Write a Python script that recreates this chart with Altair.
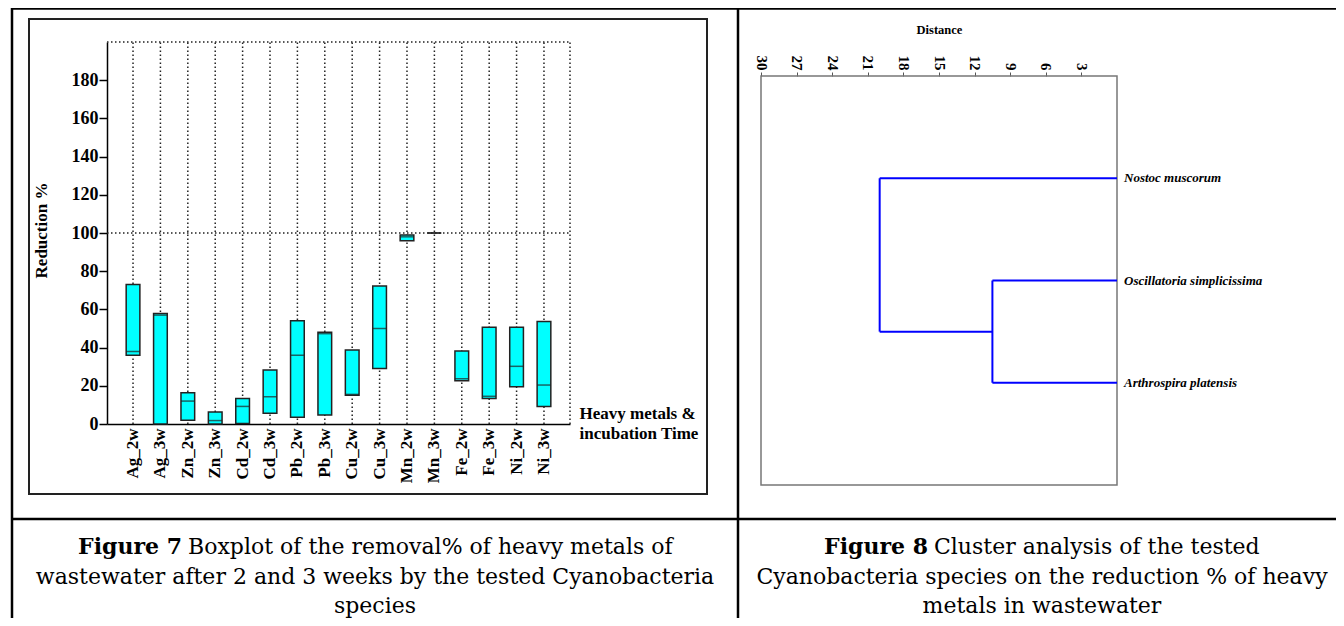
import altair as alt
import pandas as pd

# ---------------- Figure 7 data (boxplot) ----------------
categories = ["Ag_2w", "Ag_3w", "Zn_2w", "Zn_3w", "Cd_2w", "Cd_3w", "Pb_2w", "Pb_3w",
              "Cu_2w", "Cu_3w", "Mn_2w", "Mn_3w", "Fe_2w", "Fe_3w", "Ni_2w", "Ni_3w"]
q1 = [36, 0, 2, 0, 0.3, 5.6, 3.5, 4.7, 15, 29, 96, 100, 22.7, 13.3, 19.5, 9.2]
median = [38, 57, 12, 1.8, 9.2, 14.3, 36, 47.3, 15.5, 50, 98, 100, 23.7, 14.5, 30.2, 20.4]
q3 = [73, 57.8, 16.4, 6.3, 13.4, 28.3, 54, 48, 38.7, 72.2, 99, 100, 38.2, 50.6, 50.6, 53.6]
y_domain = [0, 200]
y_ticks = [0, 20, 40, 60, 80, 100, 120, 140, 160, 180]
ref_levels = [100, 200]

# ---------------- Figure 8 data (dendrogram) ----------------
species = ["Nostoc muscorum", "Oscillatoria simplicissima", "Arthrospira platensis"]
leaf_pos = [1, 2, 3]
merge_dist = [10.5, 20.0]   # Oscillatoria+Arthrospira, then Nostoc + cluster
dist_ticks = [3, 6, 9, 12, 15, 18, 21, 24, 27, 30]
dist_domain = [0, 30]

# ---------------- captions ----------------
cap7_bold = "Figure 7"
cap7_lines = ["Boxplot of the removal% of heavy metals of",
              "wastewater after 2 and 3 weeks by the tested Cyanobacteria",
              "species"]
cap8_bold = "Figure 8"
cap8_lines = ["Cluster analysis of the tested",
              "Cyanobacteria species on the reduction % of heavy",
              "metals in wastewater"]

SERIF = "Liberation Serif"
CAP = "DejaVu Serif"
W, H = 1328, 610

# ---------- boxplot layer ----------
box_df = pd.DataFrame({"cat": categories, "q1": q1, "med": median, "q3": q3,
                       "lo": [y_domain[0]] * len(categories),
                       "hi": [y_domain[1]] * len(categories)})

xb = alt.Scale(domain=categories, range=[99, 562], paddingInner=0.5, paddingOuter=0.7)
yb = alt.Scale(domain=y_domain, range=[416, 34], nice=False, zero=False)

x_axis = alt.Axis(orient="bottom", offset=-194, ticks=False, labelAngle=-90,
                  labelAlign="right", labelBaseline="middle", labelPadding=4,
                  labelFont=SERIF, labelFontWeight="bold", labelFontSize=17,
                  labelColor="black", domainColor="black", domainWidth=1.5,
                  title=["Heavy metals &", "incubation Time"], titleFont=SERIF,
                  titleFontWeight="bold", titleFontSize=17, titleColor="black",
                  titleAlign="left", titleBaseline="top", titleX=571, titleY=-19,
                  titleLineHeight=20, titleAngle=0)
y_axis = alt.Axis(orient="left", offset=-99, values=y_ticks, grid=False,
                  tickSize=8, tickColor="black", tickWidth=1.5,
                  labelFont=SERIF, labelFontWeight="bold", labelFontSize=18,
                  labelColor="black", labelPadding=1,
                  domainColor="black", domainWidth=1.5,
                  title="Reduction %", titleFont=SERIF, titleFontWeight="bold",
                  titleFontSize=17, titleColor="black", titleX=-57, titleY=222,
                  titleAngle=-90, titleAlign="center", titleBaseline="bottom")

base_box = alt.Chart(box_df)
vlines = base_box.mark_rule(strokeDash=[1.5, 2.5], strokeWidth=1.5, color="#222").encode(
    x=alt.X("cat:N", scale=xb, axis=x_axis, sort=categories),
    y=alt.Y("lo:Q", scale=yb, axis=y_axis),
    y2="hi:Q")
boxes = base_box.mark_bar(color="#00FFFF", stroke="#222", strokeWidth=1.5).encode(
    x=alt.X("cat:N", scale=xb, axis=x_axis, sort=categories),
    y=alt.Y("q1:Q", scale=yb, axis=y_axis),
    y2="q3:Q")
meds = base_box.mark_tick(color="#222", thickness=1.5, size=13.7).encode(
    x=alt.X("cat:N", scale=xb, axis=x_axis, sort=categories),
    y=alt.Y("med:Q", scale=yb, axis=y_axis))
ref_df = pd.DataFrame({"lvl": ref_levels})
hlines = alt.Chart(ref_df).mark_rule(strokeDash=[1.5, 2.5], strokeWidth=1.5, color="#222").encode(
    y=alt.Y("lvl:Q", scale=yb, axis=y_axis), x=alt.value(99), x2=alt.value(562))
right_df = pd.DataFrame({"lo": [y_domain[0]], "hi": [y_domain[1]]})
rline = alt.Chart(right_df).mark_rule(strokeDash=[1.5, 2.5], strokeWidth=1.5, color="#222").encode(
    y=alt.Y("lo:Q", scale=yb, axis=y_axis), y2="hi:Q", x=alt.value(562))

box_layer = alt.layer(vlines, boxes, meds, hlines, rline)

# ---------- dendrogram layer ----------
xd = alt.Scale(domain=dist_domain, range=[1109, 753], nice=False, zero=False)
yd = alt.Scale(domain=[0, len(species) + 1], range=[68, 477], nice=False, zero=False)

d_axis = alt.Axis(orient="top", offset=-68, values=dist_ticks, grid=False, domain=False,
                  tickSize=4, tickColor="#555", labelAngle=90, labelAlign="right",
                  labelBaseline="middle", labelPadding=2, labelFont=SERIF,
                  labelFontSize=15, labelFontWeight="bold", labelColor="black",
                  title="Distance", titleFont=SERIF, titleFontSize=12.5,
                  titleFontWeight="bold", titleColor="black", titlePadding=19)
d_yaxis = alt.Axis(orient="right", domain=False, ticks=False, labels=False, grid=False,
                   title=None)

frame_df = pd.DataFrame({"x0": [dist_domain[0]], "x1": [dist_domain[1]],
                         "y0": [0], "y1": [len(species) + 1]})
frame = alt.Chart(frame_df).mark_rect(fillOpacity=0, stroke="#777", strokeWidth=1.5).encode(
    x=alt.X("x0:Q", scale=xd, axis=d_axis), x2="x1:Q",
    y=alt.Y("y0:Q", scale=yd, axis=d_yaxis), y2="y1:Q")

m1, m2 = merge_dist
p_n, p_o, p_a = leaf_pos
mid = (p_o + p_a) / 2
seg_df = pd.DataFrame({
    "xa": [0, 0, 0, m1, m1, m2],
    "xb": [m2, m1, m1, m1, m2, m2],
    "ya": [p_n, p_o, p_a, p_o, mid, p_n],
    "yb": [p_n, p_o, p_a, p_a, mid, mid],
})
segs = alt.Chart(seg_df).mark_rule(color="#0000FF", strokeWidth=2).encode(
    x=alt.X("xa:Q", scale=xd, axis=d_axis), x2="xb:Q",
    y=alt.Y("ya:Q", scale=yd, axis=d_yaxis), y2="yb:Q")

lab_df = pd.DataFrame({"sp": species, "pos": leaf_pos, "d": [0] * len(species)})
labels = alt.Chart(lab_df).mark_text(align="left", baseline="middle", dx=7,
                                     font=SERIF, fontSize=13, fontStyle="italic",
                                     fontWeight="bold", color="black").encode(
    x=alt.X("d:Q", scale=xd, axis=d_axis),
    y=alt.Y("pos:Q", scale=yd, axis=d_yaxis),
    text="sp:N")

dendro_layer = alt.layer(frame, segs, labels)

# ---------- table / frames / captions ----------
one = pd.DataFrame({"k": [0]})

def rule(x, x2, y, y2, color="black", w=2.5):
    return alt.Chart(one).mark_rule(color=color, strokeWidth=w).encode(
        x=alt.value(x), x2=alt.value(x2), y=alt.value(y), y2=alt.value(y2))

table = [
    rule(3, W, 0.5, 0.5),
    rule(4, 4, 0, H),
    rule(730, 730, 0, H),
    rule(4, W, 511, 511),
]
img_frame = alt.Chart(one).mark_rect(fillOpacity=0, stroke="#222", strokeWidth=2).encode(
    x=alt.value(21), x2=alt.value(699), y=alt.value(11), y2=alt.value(486))

CAP_SIZE = 22

def txt(s, x, y, align, bold=False):
    return alt.Chart(pd.DataFrame({"t": [s]})).mark_text(
        font=CAP, fontSize=CAP_SIZE, fontWeight="bold" if bold else "normal",
        align=align, baseline="middle", color="black").encode(
        x=alt.value(x), y=alt.value(y), text="t:N")

rows_y = [539, 569, 598]
captions = [
    txt(cap7_bold, 174, rows_y[0], "right", True),
    txt(cap7_lines[0], 180, rows_y[0], "left"),
    txt(cap7_lines[1], 367, rows_y[1], "center"),
    txt(cap7_lines[2], 367, rows_y[2], "center"),
    txt(cap8_bold, 920, rows_y[0], "right", True),
    txt(cap8_lines[0], 926, rows_y[0], "left"),
    txt(cap8_lines[1], 1034, rows_y[1], "center"),
    txt(cap8_lines[2], 1034, rows_y[2], "center"),
]

chart = alt.layer(box_layer, dendro_layer, img_frame, *table, *captions).resolve_scale(
    x="independent", y="independent"
).properties(
    width=W, height=H, autosize=alt.AutoSizeParams(type="none"), padding=0,
    background="white"
).configure_view(stroke=None)

chart.save("out.html", embed_options={"renderer": "svg", "actions": False})
